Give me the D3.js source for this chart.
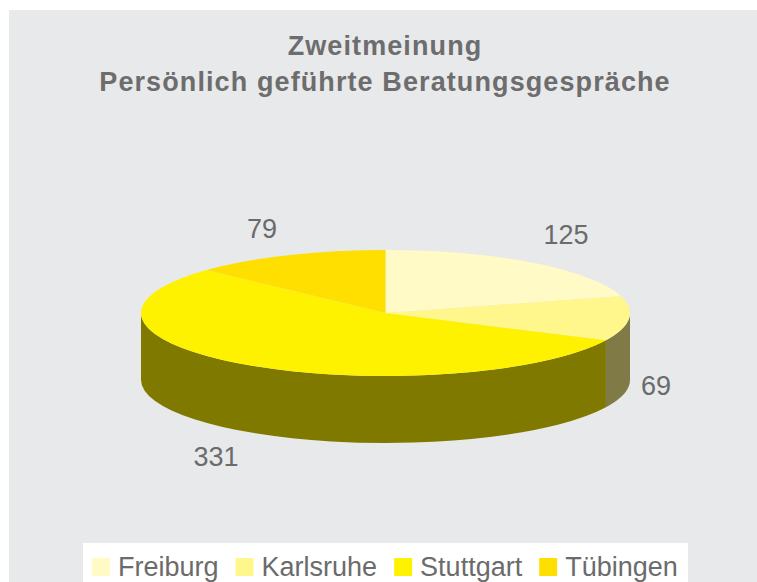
<!DOCTYPE html>
<html lang="de">
<head>
<meta charset="UTF-8">
<title>Zweitmeinung</title>
<script src="https://d3js.org/d3.v7.min.js"></script>
<style>
  body { margin: 0; background: #fff; }
  text { font-family: "Liberation Sans", Arial, sans-serif; }
</style>
</head>
<body>
<svg id="chart" width="757" height="582"></svg>
<script>
// data
const cities = ["Freiburg", "Karlsruhe", "Stuttgart", "Tübingen"];
const counts = [125, 69, 331, 79];
const topColors = ["#fffac6", "#fff68c", "#fff200", "#ffdf00"];
const titleLines = ["Zweitmeinung", "Persönlich geführte Beratungsgespräche"];
// label positions picked by eye (center x, baseline y)
const labelPos = [[566, 244], [656, 395], [216, 466], [262, 238]];

const width = 757, height = 582;
const svg = d3.select("#chart");

// plot area background
svg.append("rect")
    .attr("x", 9).attr("y", 10)
    .attr("width", width - 9).attr("height", height - 10)
    .attr("fill", "#e8e9eb");

// title
svg.append("text")
    .attr("x", 385).attr("y", 55)
    .attr("text-anchor", "middle")
    .attr("font-size", 27).attr("font-weight", "bold")
    .attr("letter-spacing", 1.1)
    .attr("fill", "#6d6d6d")
  .selectAll("tspan")
  .data(titleLines)
  .join("tspan")
    .attr("x", 385)
    .attr("dy", (d, i) => i ? 36 : 0)
    .text(d => d);

// 3D pie geometry
const cx = 385.5, cy = 313, rx = 244.5, ry = 63, depth = 67;
const pt = (a, dy = 0) => [cx + rx * Math.sin(a), cy - ry * Math.cos(a) + dy];

const pie = d3.pie().sort(null).value(d => d);
const arcs = pie(counts);

function sidePath(a0, a1) {
  const s = Math.max(a0, Math.PI / 2), e = Math.min(a1, Math.PI * 1.5);
  if (e <= s) return null;
  const p0 = pt(s), p1 = pt(e), q1 = pt(e, depth), q0 = pt(s, depth);
  const large = e - s > Math.PI ? 1 : 0;
  return `M${p0}A${rx},${ry} 0 ${large} 1 ${p1}L${q1}A${rx},${ry} 0 ${large} 0 ${q0}Z`;
}

function topPath(a0, a1) {
  const p0 = pt(a0), p1 = pt(a1);
  const large = a1 - a0 > Math.PI ? 1 : 0;
  return `M${cx},${cy}L${p0}A${rx},${ry} 0 ${large} 1 ${p1}Z`;
}

const sideColor = i => {
  const c = d3.rgb(topColors[i]);
  return d3.rgb(c.r * 0.5, c.g * 0.5, c.b * 0.5).toString();
};

svg.append("g").selectAll("path")
  .data(arcs.filter(d => sidePath(d.startAngle, d.endAngle)))
  .join("path")
    .attr("d", d => sidePath(d.startAngle, d.endAngle))
    .attr("fill", d => sideColor(d.index));

svg.append("g").selectAll("path")
  .data(arcs)
  .join("path")
    .attr("d", d => topPath(d.startAngle, d.endAngle))
    .attr("fill", d => topColors[d.index]);

// value labels
svg.append("g").selectAll("text")
  .data(arcs)
  .join("text")
    .attr("x", d => labelPos[d.index][0])
    .attr("y", d => labelPos[d.index][1])
    .attr("text-anchor", "middle")
    .attr("font-size", 27)
    .attr("fill", "#6b6b6b")
    .text(d => d.data);

// legend
const legend = svg.append("g");
legend.append("rect")
    .attr("x", 83).attr("y", 543)
    .attr("width", 605).attr("height", height - 543)
    .attr("fill", "#fff");

let lx = 92;
cities.forEach((name, i) => {
  legend.append("rect")
      .attr("x", lx).attr("y", 558)
      .attr("width", 18).attr("height", 18)
      .attr("fill", topColors[i]);
  const t = legend.append("text")
      .attr("x", lx + 26).attr("y", 576)
      .attr("font-size", 27)
      .attr("fill", "#6b6b6b")
      .text(name);
  lx += 26 + t.node().getComputedTextLength() + 17;
});
</script>
</body>
</html>
